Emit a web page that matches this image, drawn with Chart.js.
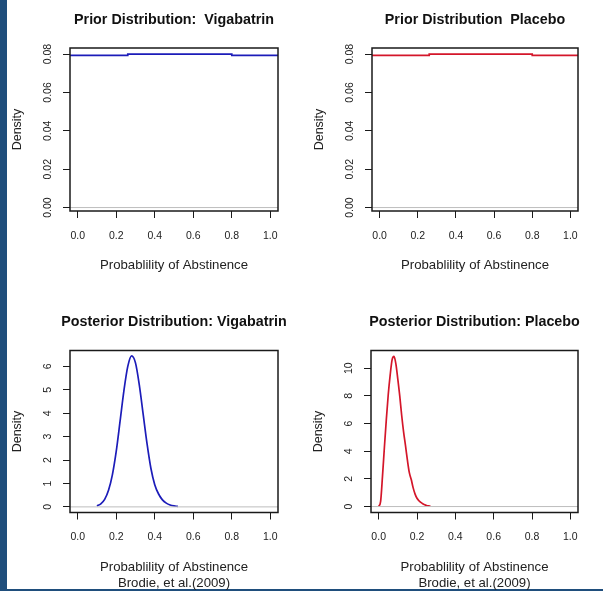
<!DOCTYPE html>
<html>
<head>
<meta charset="utf-8">
<script src="https://cdn.jsdelivr.net/npm/chart.js@4.4.1/dist/chart.umd.min.js"></script>
<style>
  html, body { margin: 0; padding: 0; background: #fff; }
  body { position: relative; width: 603px; height: 591px; overflow: hidden; }
  canvas { position: absolute; }
  .edge { position: absolute; background: #1f4e7c; }
</style>
</head>
<body>
<div class="edge" style="left:0;top:0;width:7px;height:591px"></div>
<div class="edge" style="left:0;top:589px;width:603px;height:2px"></div>
<canvas id="priorViga"></canvas>
<canvas id="priorPlac"></canvas>
<canvas id="postViga"></canvas>
<canvas id="postPlac"></canvas>
<script>
// tick values
const xTicks = [0, 0.2, 0.4, 0.6, 0.8, 1.0];
const priorTicks = [0, 0.02, 0.04, 0.06, 0.08];
const postVigaTicks = [0, 1, 2, 3, 4, 5, 6];
const postPlacTicks = [0, 2, 4, 6, 8, 10];

// prior densities (nearly flat, small step in the middle)
const priorX = [-0.04, 0.26, 0.26, 0.80, 0.80, 1.04];
const priorVigabatrin = [0.0794, 0.0794, 0.0800, 0.0800, 0.0794, 0.0794];
const priorPlacebo = [0.0794, 0.0794, 0.0800, 0.0800, 0.0794, 0.0794];

// posterior density, vigabatrin arm
const postVigaX = [0.10, 0.12, 0.14, 0.16, 0.18, 0.20, 0.22, 0.24, 0.26, 0.28, 0.30,
                   0.32, 0.34, 0.36, 0.38, 0.40, 0.42, 0.44, 0.46, 0.48, 0.50, 0.52];
const postVigabatrin = [0.04, 0.13, 0.32, 0.71, 1.37, 2.37, 3.66, 4.97, 6.0, 6.45, 6.15,
                        5.2, 3.95, 2.7, 1.65, 0.95, 0.55, 0.30, 0.16, 0.08, 0.04, 0.02];

// posterior density, placebo arm
const postPlacX = [0.00, 0.01, 0.02, 0.03, 0.04, 0.05, 0.06, 0.07, 0.08, 0.09, 0.10,
                   0.11, 0.12, 0.13, 0.14, 0.15, 0.16, 0.17, 0.18, 0.19, 0.20, 0.21,
                   0.22, 0.23, 0.24, 0.25, 0.26, 0.27];
const postPlacebo = [0.0, 0.35, 2.2, 4.3, 6.3, 8.1, 9.5, 10.6, 10.85, 10.3, 9.2,
                     8.0, 6.6, 5.4, 4.4, 3.35, 2.45, 1.95, 1.35, 0.9, 0.6, 0.42,
                     0.3, 0.2, 0.13, 0.08, 0.05, 0.03];

const baseX = [-0.04, 1.04];
const baseY = [0, 0];

const FONT = '"Liberation Sans", Arial, Helvetica, sans-serif';
const TICK_SIZE = 10.5;
const BLUE = 'rgb(28,28,185)';
const RED = 'rgb(212,22,42)';

const toPoints = (xs, ys) => xs.map((x, i) => ({ x: x, y: ys[i] }));

// R-style closed box around the plot region
const boxPlugin = {
  id: 'box',
  afterDatasetsDraw(chart) {
    const a = chart.chartArea;
    const ctx = chart.ctx;
    ctx.save();
    ctx.strokeStyle = '#1a1a1a';
    ctx.lineWidth = 1.5;
    ctx.strokeRect(a.left, a.top, a.right - a.left, a.bottom - a.top);
    ctx.restore();
  }
};

// y tick labels rotated to read bottom-to-top
const yLabelPlugin = {
  id: 'yLabels',
  afterDraw(chart, args, opts) {
    const scale = chart.scales.y;
    const ctx = chart.ctx;
    ctx.save();
    ctx.font = TICK_SIZE + 'px ' + FONT;
    ctx.fillStyle = '#222';
    ctx.textAlign = 'center';
    ctx.textBaseline = 'middle';
    scale.ticks.forEach(t => {
      ctx.save();
      ctx.translate(chart.chartArea.left - 22, scale.getPixelForValue(t.value));
      ctx.rotate(-Math.PI / 2);
      ctx.fillText(t.value.toFixed(opts.digits), 0, 0);
      ctx.restore();
    });
    ctx.restore();
  }
};

// main title centred over the plot box (may run wider than the box)
const mainTitlePlugin = {
  id: 'mainTitle',
  afterDraw(chart, args, opts) {
    const a = chart.chartArea;
    const ctx = chart.ctx;
    ctx.save();
    ctx.font = 'bold 14.3px ' + FONT;
    ctx.fillStyle = '#111';
    ctx.textAlign = 'center';
    ctx.textBaseline = 'middle';
    ctx.fillText(opts.text, (a.left + a.right) / 2, a.top - opts.gap);
    ctx.restore();
  }
};

const topRow = { top: 0, height: 300, areaTop: 48, areaBottom: 211,
                 titleGap: 28, tickPad: 12.0, xTitlePad: 26.5 };
const bottomRow = { top: 300, height: 291, areaTop: 350.5, areaBottom: 512.5,
                    titleGap: 28.8, tickPad: 10.9, xTitlePad: 0 };

const panels = [
  { id: 'priorViga', row: topRow, left: 8, width: 292, areaLeft: 70, areaRight: 278,
    title: 'Prior Distribution:  Vigabatrin', xTitle: ['Probablility of Abstinence'],
    yMin: -0.0018, yMax: 0.0832, yTicks: priorTicks, digits: 2,
    x: priorX, y: priorVigabatrin, color: BLUE, smooth: false },
  { id: 'priorPlac', row: topRow, left: 300, width: 303, areaLeft: 372, areaRight: 578,
    title: 'Prior Distribution  Placebo', xTitle: ['Probablility of Abstinence'],
    yMin: -0.0018, yMax: 0.0832, yTicks: priorTicks, digits: 2,
    x: priorX, y: priorPlacebo, color: RED, smooth: false },
  { id: 'postViga', row: bottomRow, left: 8, width: 292, areaLeft: 70, areaRight: 278,
    title: 'Posterior Distribution: Vigabatrin', xTitle: ['Probablility of Abstinence', 'Brodie, et al.(2009)'],
    yMin: -0.24, yMax: 6.68, yTicks: postVigaTicks, digits: 0,
    x: postVigaX, y: postVigabatrin, color: BLUE, smooth: true },
  { id: 'postPlac', row: bottomRow, left: 300, width: 303, areaLeft: 371, areaRight: 578,
    title: 'Posterior Distribution: Placebo', xTitle: ['Probablility of Abstinence', 'Brodie, et al.(2009)'],
    yMin: -0.43, yMax: 11.28, yTicks: postPlacTicks, digits: 0,
    x: postPlacX, y: postPlacebo, color: RED, smooth: true }
];

const tickGrid = { display: true, drawOnChartArea: false, drawTicks: true, tickLength: 7,
                   color: '#1a1a1a', lineWidth: 1 };

panels.forEach(p => {
  const r = p.row;
  const canvas = document.getElementById(p.id);
  canvas.width = p.width;
  canvas.height = r.height;
  canvas.style.left = p.left + 'px';
  canvas.style.top = r.top + 'px';

  const yWidth = p.areaLeft - p.left;
  const xHeight = r.height - (r.areaBottom - r.top);

  new Chart(canvas.getContext('2d'), {
    type: 'line',
    data: {
      datasets: [
        { data: toPoints(baseX, baseY), borderColor: '#bdbdbd', borderWidth: 1,
          pointRadius: 0, tension: 0 },
        { data: toPoints(p.x, p.y), borderColor: p.color, borderWidth: 1.7,
          pointRadius: 0, tension: 0,
          cubicInterpolationMode: p.smooth ? 'monotone' : 'default' }
      ]
    },
    options: {
      responsive: false,
      animation: false,
      devicePixelRatio: 1,
      layout: { autoPadding: false,
                padding: { left: 0, bottom: 0, top: r.areaTop - r.top,
                           right: p.left + p.width - p.areaRight } },
      plugins: {
        legend: { display: false },
        tooltip: { enabled: false },
        title: { display: false },
        mainTitle: { text: p.title, gap: r.titleGap },
        yLabels: { digits: p.digits }
      },
      scales: {
        x: {
          type: 'linear', min: -0.04, max: 1.04,
          afterBuildTicks: s => { s.ticks = xTicks.map(v => ({ value: v })); },
          afterFit: s => { s.height = xHeight; },
          grid: tickGrid,
          border: { display: false },
          ticks: { autoSkip: false, maxRotation: 0, padding: r.tickPad, color: '#222',
                   font: { family: FONT, size: TICK_SIZE, lineHeight: 1.2 },
                   callback: v => v.toFixed(1) },
          title: { display: true, text: p.xTitle, color: '#222',
                   font: { family: FONT, size: 13.2, lineHeight: 1.212 },
                   padding: { top: 0, bottom: r.xTitlePad } }
        },
        y: {
          type: 'linear', min: p.yMin, max: p.yMax,
          afterBuildTicks: s => { s.ticks = p.yTicks.map(v => ({ value: v })); },
          afterFit: s => { s.width = yWidth; },
          grid: tickGrid,
          border: { display: false },
          ticks: { display: false },
          title: { display: true, text: 'Density', color: '#222',
                   font: { family: FONT, size: 12.5, lineHeight: 1.2 },
                   padding: { top: yWidth - 52 - 7.5, bottom: 0 } }
        }
      }
    },
    plugins: [boxPlugin, yLabelPlugin, mainTitlePlugin]
  });
});
</script>
</body>
</html>
